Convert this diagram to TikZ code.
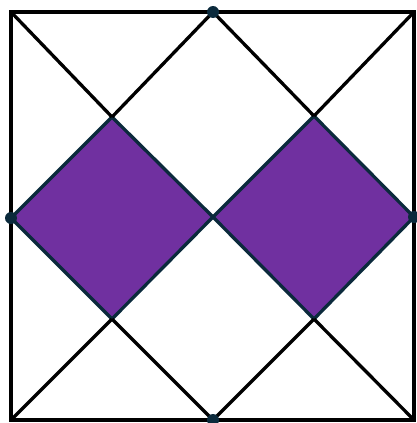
\documentclass[tikz,border=0pt]{standalone}
\begin{document}
\begin{tikzpicture}[x=1pt,y=-1pt,
  edge/.style={line width=3.3pt,black},
  fillsq/.style={fill=purp,draw=navy,line width=3.3pt,line join=round},
  dot/.style={circle,fill=navy,inner sep=0pt,minimum size=12pt}]
\definecolor{purp}{HTML}{7030A0}
\definecolor{navy}{HTML}{0B2A3C}
\useasboundingbox (0,0) rectangle (417,423);
\coordinate (TL) at (11,12);
\coordinate (TR) at (414,12);
\coordinate (BL) at (11,420);
\coordinate (BR) at (414,420);
\coordinate (T) at (213,12);
\coordinate (B) at (213,420);
\coordinate (L) at (11,218);
\coordinate (R) at (414,217);
\coordinate (C) at (213,217);
\coordinate (P1) at (112,117);
\coordinate (P2) at (314,116);
\coordinate (P3) at (112,319);
\coordinate (P4) at (314,319);
\fill[white] (0,0) rectangle (417,423);
\draw[fillsq] (L) -- (P1) -- (C) -- (P3) -- cycle;
\draw[fillsq] (C) -- (P2) -- (R) -- (P4) -- cycle;
\draw[edge] (TL) rectangle (BR);
\draw[edge] (TL) -- (P1) (P4) -- (BR);
\draw[edge] (TR) -- (P2) (P3) -- (BL);
\draw[edge] (T) -- (P1) (T) -- (P2);
\draw[edge] (B) -- (P3) (B) -- (P4);
\node[dot] (dT) at (T) {};
\node[dot] (dL) at (L) {};
\node[dot] (dR) at (R) {};
\node[dot] (dB) at (B) {};
\end{tikzpicture}
\end{document}
